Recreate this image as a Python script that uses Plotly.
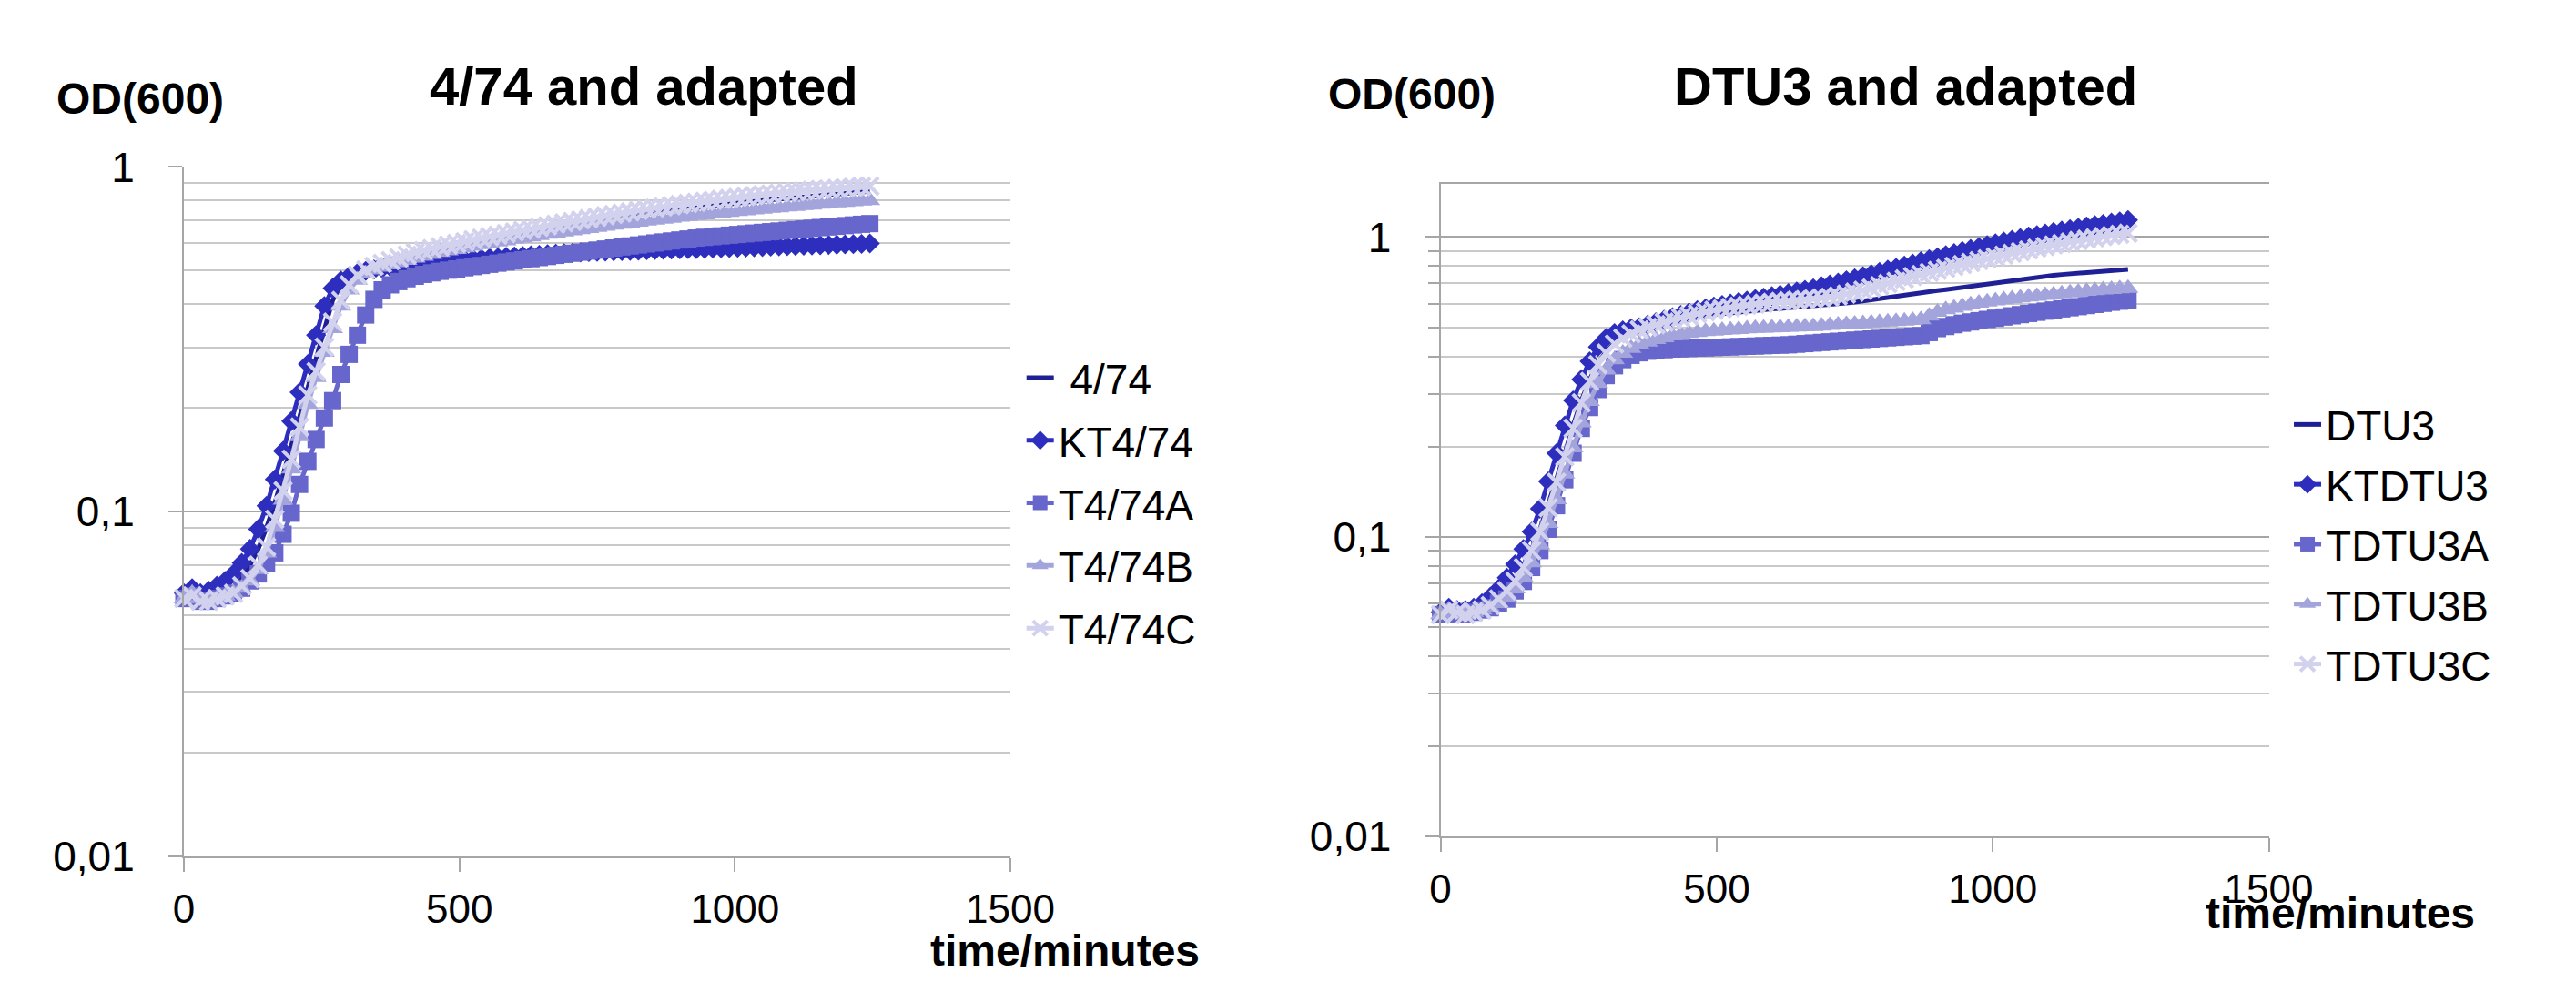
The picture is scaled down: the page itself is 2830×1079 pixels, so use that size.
import plotly.graph_objects as go

# ---------------- data ----------------
TIME = [0, 15, 30, 45, 60, 75, 90, 105, 120, 135, 150, 165, 180, 195, 210, 225, 240, 255, 270, 285,
        300, 315, 330, 345, 360, 375, 390, 405, 420, 435, 450, 465, 480, 495, 510, 525, 540, 555, 570, 585,
        600, 615, 630, 645, 660, 675, 690, 705, 720, 735, 750, 765, 780, 795, 810, 825, 840, 855, 870, 885,
        900, 915, 930, 945, 960, 975, 990, 1005, 1020, 1035, 1050, 1065, 1080, 1095, 1110, 1125, 1140, 1155, 1170, 1185,
        1200, 1215, 1230, 1245]

# left panel: 4/74 and adapted
L_474 = [0.056, 0.057, 0.056, 0.056, 0.057, 0.058, 0.060, 0.064, 0.070, 0.078, 0.090, 0.106, 0.128, 0.156, 0.190, 0.232, 0.283, 0.345, 0.410, 0.455,
         0.482, 0.500, 0.513, 0.524, 0.532, 0.540, 0.548, 0.556, 0.563, 0.570, 0.577, 0.584, 0.590, 0.596, 0.602, 0.609, 0.615, 0.621, 0.627, 0.633,
         0.639, 0.645, 0.651, 0.657, 0.663, 0.669, 0.675, 0.681, 0.687, 0.693, 0.699, 0.705, 0.710, 0.716, 0.722, 0.727, 0.733, 0.738, 0.743, 0.748,
         0.753, 0.758, 0.763, 0.768, 0.773, 0.777, 0.782, 0.786, 0.791, 0.795, 0.799, 0.803, 0.807, 0.811, 0.815, 0.819, 0.823, 0.827, 0.830, 0.834,
         0.838, 0.841, 0.845, 0.850]
L_KT = [0.058, 0.060, 0.058, 0.059, 0.061, 0.063, 0.066, 0.071, 0.078, 0.089, 0.104, 0.124, 0.150, 0.183, 0.222, 0.268, 0.325, 0.395, 0.445, 0.468,
        0.482, 0.492, 0.499, 0.504, 0.508, 0.512, 0.515, 0.518, 0.521, 0.524, 0.527, 0.530, 0.532, 0.535, 0.537, 0.540, 0.542, 0.544, 0.546, 0.548,
        0.550, 0.552, 0.554, 0.556, 0.558, 0.560, 0.562, 0.563, 0.565, 0.566, 0.567, 0.568, 0.569, 0.570, 0.571, 0.572, 0.573, 0.574, 0.575, 0.576,
        0.577, 0.578, 0.578, 0.579, 0.580, 0.581, 0.582, 0.583, 0.584, 0.585, 0.586, 0.587, 0.588, 0.589, 0.590, 0.591, 0.592, 0.593, 0.594, 0.595,
        0.596, 0.597, 0.598, 0.600]
L_A = [0.056, 0.057, 0.055, 0.055, 0.056, 0.057, 0.058, 0.060, 0.063, 0.066, 0.071, 0.076, 0.086, 0.099, 0.120, 0.140, 0.162, 0.187, 0.210, 0.250,
       0.286, 0.325, 0.372, 0.413, 0.440, 0.455, 0.465, 0.474, 0.482, 0.488, 0.493, 0.498, 0.502, 0.506, 0.510, 0.514, 0.518, 0.522, 0.526, 0.530,
       0.534, 0.538, 0.542, 0.546, 0.550, 0.554, 0.558, 0.562, 0.566, 0.570, 0.574, 0.578, 0.582, 0.586, 0.590, 0.594, 0.598, 0.602, 0.606, 0.610,
       0.614, 0.618, 0.622, 0.625, 0.628, 0.631, 0.634, 0.637, 0.640, 0.643, 0.646, 0.649, 0.652, 0.655, 0.658, 0.661, 0.664, 0.667, 0.670, 0.673,
       0.676, 0.679, 0.682, 0.685]
L_B = [0.056, 0.058, 0.056, 0.055, 0.056, 0.057, 0.058, 0.060, 0.063, 0.068, 0.076, 0.090, 0.108, 0.133, 0.165, 0.205, 0.245, 0.290, 0.340, 0.395,
       0.440, 0.470, 0.490, 0.503, 0.512, 0.520, 0.528, 0.536, 0.544, 0.551, 0.558, 0.565, 0.571, 0.577, 0.583, 0.589, 0.595, 0.600, 0.606, 0.611,
       0.617, 0.622, 0.627, 0.633, 0.638, 0.643, 0.648, 0.653, 0.658, 0.663, 0.668, 0.673, 0.678, 0.683, 0.687, 0.692, 0.697, 0.701, 0.706, 0.710,
       0.715, 0.719, 0.723, 0.727, 0.731, 0.735, 0.739, 0.743, 0.747, 0.751, 0.755, 0.759, 0.762, 0.766, 0.769, 0.773, 0.776, 0.780, 0.783, 0.787,
       0.790, 0.793, 0.797, 0.800]
L_C = [0.056, 0.057, 0.055, 0.055, 0.056, 0.057, 0.058, 0.061, 0.064, 0.070, 0.079, 0.095, 0.115, 0.142, 0.176, 0.218, 0.255, 0.300, 0.355, 0.410,
       0.455, 0.485, 0.503, 0.515, 0.525, 0.535, 0.545, 0.555, 0.565, 0.572, 0.580, 0.587, 0.594, 0.600, 0.607, 0.615, 0.622, 0.628, 0.634, 0.641,
       0.648, 0.655, 0.661, 0.668, 0.675, 0.682, 0.688, 0.695, 0.702, 0.708, 0.715, 0.722, 0.728, 0.735, 0.741, 0.748, 0.754, 0.760, 0.766, 0.772,
       0.778, 0.784, 0.790, 0.795, 0.800, 0.806, 0.811, 0.816, 0.821, 0.826, 0.831, 0.835, 0.840, 0.844, 0.848, 0.852, 0.856, 0.860, 0.863, 0.867,
       0.870, 0.874, 0.877, 0.880]

# right panel: DTU3 and adapted
R_DTU3 = [0.055, 0.056, 0.056, 0.055, 0.056, 0.057, 0.059, 0.062, 0.066, 0.072, 0.080, 0.091, 0.106, 0.128, 0.156, 0.190, 0.235, 0.285, 0.335, 0.380,
          0.415, 0.443, 0.462, 0.477, 0.490, 0.498, 0.505, 0.512, 0.519, 0.526, 0.533, 0.540, 0.546, 0.551, 0.555, 0.559, 0.563, 0.566, 0.569, 0.572,
          0.575, 0.577, 0.580, 0.582, 0.584, 0.586, 0.589, 0.592, 0.596, 0.600, 0.606, 0.612, 0.618, 0.624, 0.630, 0.636, 0.642, 0.648, 0.653, 0.658,
          0.663, 0.668, 0.674, 0.680, 0.686, 0.692, 0.698, 0.704, 0.710, 0.716, 0.722, 0.728, 0.734, 0.740, 0.745, 0.750, 0.754, 0.758, 0.762, 0.766,
          0.770, 0.773, 0.776, 0.780]
R_KT = [0.056, 0.058, 0.057, 0.057, 0.058, 0.060, 0.063, 0.067, 0.073, 0.081, 0.091, 0.104, 0.124, 0.153, 0.190, 0.235, 0.285, 0.335, 0.385, 0.430,
        0.460, 0.478, 0.488, 0.496, 0.500, 0.510, 0.520, 0.530, 0.540, 0.550, 0.560, 0.570, 0.578, 0.586, 0.594, 0.600, 0.607, 0.614, 0.621, 0.628,
        0.635, 0.642, 0.650, 0.658, 0.666, 0.675, 0.685, 0.695, 0.705, 0.717, 0.728, 0.740, 0.752, 0.765, 0.778, 0.790, 0.803, 0.816, 0.830, 0.843,
        0.856, 0.870, 0.884, 0.898, 0.912, 0.926, 0.940, 0.953, 0.966, 0.979, 0.992, 1.004, 1.016, 1.028, 1.040, 1.052, 1.063, 1.074, 1.085, 1.096,
        1.107, 1.118, 1.128, 1.140]
R_A = [0.055, 0.056, 0.055, 0.055, 0.056, 0.057, 0.058, 0.060, 0.062, 0.066, 0.071, 0.079, 0.090, 0.106, 0.127, 0.155, 0.190, 0.230, 0.270, 0.310,
       0.345, 0.372, 0.390, 0.403, 0.411, 0.416, 0.419, 0.421, 0.423, 0.424, 0.425, 0.426, 0.427, 0.428, 0.429, 0.430, 0.431, 0.432, 0.433, 0.434,
       0.435, 0.436, 0.437, 0.439, 0.441, 0.443, 0.445, 0.447, 0.449, 0.451, 0.453, 0.455, 0.457, 0.459, 0.461, 0.463, 0.465, 0.467, 0.469, 0.480,
       0.495, 0.503, 0.510, 0.516, 0.521, 0.526, 0.531, 0.536, 0.541, 0.546, 0.551, 0.556, 0.561, 0.566, 0.571, 0.576, 0.581, 0.586, 0.591, 0.596,
       0.601, 0.606, 0.611, 0.616]
R_B = [0.055, 0.057, 0.056, 0.055, 0.056, 0.057, 0.058, 0.060, 0.063, 0.067, 0.073, 0.082, 0.094, 0.111, 0.133, 0.162, 0.198, 0.240, 0.283, 0.325,
       0.360, 0.390, 0.410, 0.425, 0.438, 0.447, 0.455, 0.462, 0.468, 0.473, 0.477, 0.481, 0.484, 0.486, 0.488, 0.490, 0.492, 0.494, 0.496, 0.497,
       0.498, 0.499, 0.500, 0.501, 0.502, 0.503, 0.505, 0.507, 0.509, 0.511, 0.513, 0.515, 0.517, 0.519, 0.521, 0.523, 0.525, 0.527, 0.530, 0.545,
       0.562, 0.572, 0.580, 0.588, 0.595, 0.602, 0.608, 0.613, 0.618, 0.623, 0.627, 0.631, 0.635, 0.639, 0.643, 0.647, 0.651, 0.655, 0.659, 0.663,
       0.666, 0.669, 0.672, 0.675]
R_C = [0.055, 0.057, 0.056, 0.055, 0.056, 0.057, 0.059, 0.062, 0.066, 0.071, 0.079, 0.090, 0.104, 0.125, 0.152, 0.185, 0.230, 0.280, 0.330, 0.375,
       0.410, 0.440, 0.460, 0.475, 0.490, 0.500, 0.510, 0.520, 0.530, 0.538, 0.546, 0.555, 0.563, 0.570, 0.576, 0.582, 0.587, 0.592, 0.597, 0.602,
       0.606, 0.610, 0.613, 0.616, 0.619, 0.622, 0.626, 0.630, 0.636, 0.645, 0.655, 0.665, 0.676, 0.688, 0.700, 0.712, 0.725, 0.738, 0.750, 0.762,
       0.774, 0.786, 0.798, 0.810, 0.822, 0.834, 0.846, 0.858, 0.870, 0.882, 0.894, 0.906, 0.918, 0.930, 0.941, 0.952, 0.963, 0.974, 0.984, 0.994,
       1.004, 1.013, 1.022, 1.030]

LEFT_NAMES = ["\u00a04/74", "KT4/74", "T4/74A", "T4/74B", "T4/74C"]
RIGHT_NAMES = ["DTU3", "KTDTU3", "TDTU3A", "TDTU3B", "TDTU3C"]

X_TICKS = [0, 500, 1000, 1500]
Y_TICKS = [0.01, 0.1, 1]
Y_TICK_TEXT = ["0,01", "0,1", "1"]
Y_MINOR = [0.02, 0.03, 0.04, 0.05, 0.06, 0.07, 0.08, 0.09,
           0.2, 0.3, 0.4, 0.5, 0.6, 0.7, 0.8, 0.9]

for s in (L_474, L_KT, L_A, L_B, L_C, R_DTU3, R_KT, R_A, R_B, R_C):
    assert len(s) == len(TIME), len(s)

# ---------------- styles ----------------
FONT = "Liberation Sans, Arial, sans-serif"
W, H = 2830, 1079
DARK = "#202096"
KTC = "#2E2EBE"
AC = "#6666CC"
BC = "#A4A4DC"
CC = "#D2D2EE"
GRID = "#C9C9C9"
MAJOR = "#A6A6A6"

STYLES = [
    dict(mode="lines", line=dict(color=DARK, width=5)),
    dict(mode="lines+markers", line=dict(color=KTC, width=5),
         marker=dict(symbol="diamond", size=17, color=KTC)),
    dict(mode="lines+markers", line=dict(color=AC, width=5),
         marker=dict(symbol="square", size=19, color=AC)),
    dict(mode="lines+markers", line=dict(color=BC, width=5),
         marker=dict(symbol="triangle-up", size=20, color=BC)),
    dict(mode="lines+markers", line=dict(color=CC, width=5),
         marker=dict(symbol="x-thin", size=19, color=CC, line=dict(color=CC, width=4))),
]

fig = go.Figure()
for i, (name, ys) in enumerate(zip(LEFT_NAMES, [L_474, L_KT, L_A, L_B, L_C])):
    fig.add_trace(go.Scatter(x=TIME, y=ys, name=name, xaxis="x", yaxis="y",
                             legend="legend", legendgroup="L%d" % i, cliponaxis=False,
                             **STYLES[i]))
for i, (name, ys) in enumerate(zip(RIGHT_NAMES, [R_DTU3, R_KT, R_A, R_B, R_C])):
    fig.add_trace(go.Scatter(x=TIME, y=ys, name=name, xaxis="x2", yaxis="y2",
                             legend="legend2", legendgroup="R%d" % i, cliponaxis=False,
                             **STYLES[i]))


def px_x(p):
    return p / W


def px_y(p):
    return 1 - p / H


tickfont = dict(family=FONT, size=46, color="#000000")
xtickfont = dict(family=FONT, size=44, color="#000000")

xcommon = dict(range=[0, 1500], tickvals=X_TICKS, showgrid=False, zeroline=False,
               showline=True, linecolor=MAJOR, linewidth=2, ticks="outside", ticklen=15,
               tickwidth=2, tickcolor=MAJOR, tickfont=xtickfont, ticklabelstandoff=3)
ycommon = dict(type="log", tickvals=Y_TICKS, ticktext=Y_TICK_TEXT, showgrid=True,
               gridcolor=MAJOR, gridwidth=2, zeroline=False, showline=True, linecolor=MAJOR,
               linewidth=2, ticks="outside", ticklen=15, tickwidth=2, tickcolor=MAJOR,
               tickfont=tickfont, ticklabelstandoff=28)

fig.update_layout(
    width=W, height=H,
    margin=dict(l=0, r=0, t=0, b=0),
    paper_bgcolor="white", plot_bgcolor="white",
    font=dict(family=FONT, color="#000000"),
    xaxis=dict(domain=[px_x(186), px_x(1114)], anchor="y", **xcommon),
    yaxis=dict(domain=[px_y(953), px_y(157)], anchor="x", range=[-2, 0],
               minor=dict(tickvals=Y_MINOR, showgrid=True, gridcolor=GRID, gridwidth=2, ticks=""),
               **ycommon),
    xaxis2=dict(domain=[px_x(1597), px_x(2527)], anchor="y2", mirror=True, **xcommon),
    yaxis2=dict(domain=[px_y(930), px_y(177)], anchor="x2", range=[-2, 0.17609],
                minor=dict(tickvals=Y_MINOR, showgrid=True, gridcolor=GRID, gridwidth=2,
                           ticks="outside", ticklen=12, tickcolor=MAJOR, tickwidth=2),
                **ycommon),
    legend=dict(x=px_x(1127), y=px_y(362), xanchor="left", yanchor="top",
                font=dict(family=FONT, size=46, color="#000000"), bgcolor="rgba(0,0,0,0)",
                tracegroupgap=6, traceorder="grouped", itemwidth=30),
    legend2=dict(x=px_x(2550), y=px_y(416), xanchor="left", yanchor="top",
                 font=dict(family=FONT, size=46, color="#000000"), bgcolor="rgba(0,0,0,0)",
                 tracegroupgap=3, traceorder="grouped", itemwidth=30),
    showlegend=True,
)

ann = []


def add_text(text, x, y, size, bold=True):
    ann.append(dict(text=("<b>%s</b>" % text) if bold else text, x=px_x(x), y=px_y(y),
                    xref="paper", yref="paper", xanchor="center", yanchor="middle",
                    showarrow=False, font=dict(family=FONT, size=size, color="#000000")))


add_text("4/74 and adapted", 703, 64, 58)
add_text("DTU3 and adapted", 2119, 64, 58)
add_text("OD(600)", 137, 78, 48)
add_text("OD(600)", 1565, 73, 48)
add_text("time/minutes", 1175, 1062, 48)
add_text("time/minutes", 2607, 1019, 48)
fig.update_layout(annotations=ann)

fig.write_html("out.html")
